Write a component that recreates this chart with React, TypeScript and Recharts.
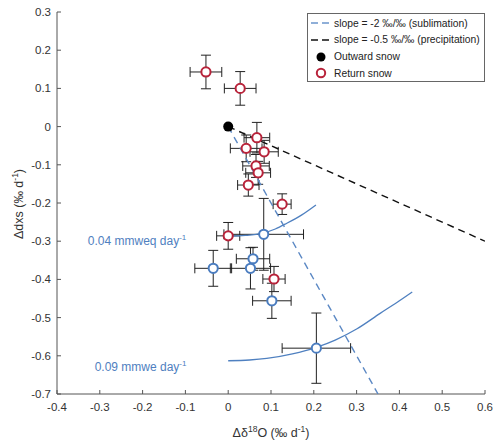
import { ScatterChart, Scatter, XAxis, YAxis, ErrorBar, ReferenceDot } from 'recharts'

const FONT = '"Liberation Sans", Arial, Helvetica, sans-serif'
const AXIS_COLOR = '#555'
const TEXT_COLOR = '#333'
const RED = '#b8233a'
const BLUE = '#4a7cbf'
const CURVE_BLUE = '#4f80c0'

const X_TICKS = [-0.4, -0.3, -0.2, -0.1, 0, 0.1, 0.2, 0.3, 0.4, 0.5, 0.6]
const Y_TICKS = [-0.7, -0.6, -0.5, -0.4, -0.3, -0.2, -0.1, 0, 0.1, 0.2, 0.3]

// outward leg
const OUTWARD_X = [0]
const OUTWARD_Y = [0]

// return leg, red ring markers
const RETURN_RED_X = [-0.052, 0.028, 0.067, 0.042, 0.084, 0.065, 0.07, 0.047, 0.126, 0.0, 0.107]
const RETURN_RED_Y = [0.143, 0.1, -0.029, -0.057, -0.066, -0.103, -0.121, -0.153, -0.203, -0.286, -0.399]
const RETURN_RED_EX = [0.037, 0.037, 0.03, 0.037, 0.033, 0.031, 0.029, 0.025, 0.021, 0.027, 0.026]
const RETURN_RED_EY = [0.044, 0.044, 0.04, 0.035, 0.03, 0.03, 0.03, 0.029, 0.027, 0.035, 0.033]

// return leg, blue ring markers
const RETURN_BLUE_X = [0.083, 0.058, -0.035, 0.052, 0.102, 0.206]
const RETURN_BLUE_Y = [-0.282, -0.346, -0.371, -0.371, -0.456, -0.58]
const RETURN_BLUE_EX = [0.093, 0.039, 0.043, 0.047, 0.045, 0.08]
const RETURN_BLUE_EY = [0.094, 0.03, 0.047, 0.054, 0.046, 0.092]

// reference slopes through the origin
const SUBLIMATION_X = [0, 0.35]
const SUBLIMATION_Y = [0, -0.7]
const PRECIP_X = [0, 0.6]
const PRECIP_Y = [0, -0.3]

// sublimation-rate curves
const LOW_RATE_X = [0, 0.04, 0.08, 0.11, 0.137, 0.172, 0.205]
const LOW_RATE_Y = [-0.287, -0.285, -0.279, -0.268, -0.253, -0.231, -0.205]
const HIGH_RATE_X = [0, 0.05, 0.09, 0.15, 0.206, 0.25, 0.3, 0.355, 0.4, 0.43]
const HIGH_RATE_Y = [-0.613, -0.611, -0.607, -0.595, -0.578, -0.559, -0.53, -0.489, -0.456, -0.433]

const zip = (xs: number[], ys: number[]) => xs.map((x, i) => ({ x, y: ys[i] }))
const withErrors = (xs: number[], ys: number[], ex: number[], ey: number[]) =>
  xs.map((x, i) => ({ x, y: ys[i], ex: ex[i], ey: ey[i] }))

const outward = zip(OUTWARD_X, OUTWARD_Y)
const returnRed = withErrors(RETURN_RED_X, RETURN_RED_Y, RETURN_RED_EX, RETURN_RED_EY)
const returnBlue = withErrors(RETURN_BLUE_X, RETURN_BLUE_Y, RETURN_BLUE_EX, RETURN_BLUE_EY)
const sublimation = zip(SUBLIMATION_X, SUBLIMATION_Y)
const precip = zip(PRECIP_X, PRECIP_Y)
const lowRate = zip(LOW_RATE_X, LOW_RATE_Y)
const highRate = zip(HIGH_RATE_X, HIGH_RATE_Y)

const fmt = (v: number) => (Math.abs(v) < 1e-9 ? '0' : v.toFixed(1))

function XTick({ x, y, payload }: any) {
  return (
    <g>
      <line x1={x} x2={x} y1={y} y2={y - 4} stroke={AXIS_COLOR} />
      <text x={x} y={y + 17} textAnchor="middle" fontSize={11.5} fill={TEXT_COLOR} fontFamily={FONT}>
        {fmt(payload.value)}
      </text>
    </g>
  )
}

function YTick({ x, y, payload }: any) {
  return (
    <g>
      <line x1={x} x2={x + 4} y1={y} y2={y} stroke={AXIS_COLOR} />
      <text x={x - 6} y={y + 4} textAnchor="end" fontSize={11.5} fill={TEXT_COLOR} fontFamily={FONT}>
        {fmt(payload.value)}
      </text>
    </g>
  )
}

const ring = (color: string) => (p: any) =>
  <circle cx={p.cx} cy={p.cy} r={4.6} fill="#fff" stroke={color} strokeWidth={2} />

const noMarker = () => <g />

function RateLabel({ cx, cy, text }: any) {
  return (
    <text x={cx} y={cy} fontSize={12} fill={CURVE_BLUE} fontFamily={FONT}>
      {text}
      <tspan dy={-5} fontSize={8}>-1</tspan>
    </text>
  )
}

function LegendBox() {
  const rows = [
    { label: 'slope = -2 ‰/‰ (sublimation)', kind: 'dash', color: '#6b95cc' },
    { label: 'slope = -0.5 ‰/‰ (precipitation)', kind: 'dash', color: '#111' },
    { label: 'Outward snow', kind: 'dot', color: '#000' },
    { label: 'Return snow', kind: 'ring', color: RED },
  ]
  return (
    <div
      style={{
        position: 'absolute',
        left: 307,
        top: 13,
        width: 178,
        height: 69,
        border: '1px solid #666',
        background: '#fff',
        fontFamily: FONT,
        fontSize: 10.3,
        color: '#222',
        boxSizing: 'border-box',
      }}
    >
      {rows.map((r, i) => (
        <div key={i} style={{ position: 'absolute', left: 0, top: 1 + i * 16.8, height: 16, display: 'flex', alignItems: 'center' }}>
          <svg width={24} height={16} style={{ marginLeft: 1 }}>
            {r.kind === 'dash' && <line x1={2} x2={22} y1={8} y2={8} stroke={r.color} strokeWidth={1.5} strokeDasharray="7 4" />}
            {r.kind === 'dot' && <circle cx={12} cy={8} r={4.5} fill={r.color} />}
            {r.kind === 'ring' && <circle cx={12} cy={8} r={4.2} fill="#fff" stroke={r.color} strokeWidth={2} />}
          </svg>
          <span style={{ marginLeft: 1, whiteSpace: 'nowrap' }}>{r.label}</span>
        </div>
      ))}
    </div>
  )
}

export default function App() {
  return (
    <div style={{ position: 'absolute', left: 0, top: 0, width: 500, height: 448, background: '#fff' }}>
      <ScatterChart width={500} height={448} margin={{ top: 12, right: 15, bottom: 0, left: 0 }}>
        <XAxis
          type="number"
          dataKey="x"
          domain={[-0.4, 0.6]}
          ticks={X_TICKS}
          tick={<XTick />}
          tickSize={0}
          tickMargin={0}
          tickLine={false}
          height={54}
          stroke={AXIS_COLOR}
          allowDataOverflow
          label={{
            content: () => (
              <text x={271} y={437} textAnchor="middle" fontSize={12.5} fill={TEXT_COLOR} fontFamily={FONT}>
                Δδ
                <tspan dy={-5} fontSize={8.5}>18</tspan>
                <tspan dy={5}>O (‰ d</tspan>
                <tspan dy={-5} fontSize={8.5}>-1</tspan>
                <tspan dy={5}>)</tspan>
              </text>
            ),
          }}
        />
        <YAxis
          type="number"
          dataKey="y"
          domain={[-0.7, 0.3]}
          ticks={Y_TICKS}
          tick={<YTick />}
          tickSize={0}
          tickMargin={0}
          tickLine={false}
          width={57}
          stroke={AXIS_COLOR}
          allowDataOverflow
          label={{
            content: () => (
              <text
                x={0}
                y={0}
                transform="translate(23 204) rotate(-90)"
                textAnchor="middle"
                fontSize={12.5}
                fill={TEXT_COLOR}
                fontFamily={FONT}
              >
                Δdxs (‰ d
                <tspan dy={-5} fontSize={8.5}>-1</tspan>
                <tspan dy={5}>)</tspan>
              </text>
            ),
          }}
        />

        <Scatter
          data={lowRate}
          line={{ stroke: CURVE_BLUE, strokeWidth: 1.3 }}
          lineJointType="monotoneX"
          shape={noMarker}
          isAnimationActive={false}
        />
        <Scatter
          data={highRate}
          line={{ stroke: CURVE_BLUE, strokeWidth: 1.3 }}
          lineJointType="monotoneX"
          shape={noMarker}
          isAnimationActive={false}
        />
        <Scatter
          data={sublimation}
          line={{ stroke: '#5b88c4', strokeWidth: 1.4, strokeDasharray: '7 5' }}
          shape={noMarker}
          isAnimationActive={false}
        />
        <Scatter
          data={precip}
          line={{ stroke: '#111', strokeWidth: 1.4, strokeDasharray: '7 5' }}
          shape={noMarker}
          isAnimationActive={false}
        />

        <Scatter data={returnBlue} shape={ring(BLUE)} isAnimationActive={false}>
          <ErrorBar dataKey="ex" direction="x" width={5} stroke="#222" strokeWidth={1} />
          <ErrorBar dataKey="ey" direction="y" width={5} stroke="#222" strokeWidth={1} />
        </Scatter>
        <Scatter data={returnRed} shape={ring(RED)} isAnimationActive={false}>
          <ErrorBar dataKey="ex" direction="x" width={5} stroke="#222" strokeWidth={1} />
          <ErrorBar dataKey="ey" direction="y" width={5} stroke="#222" strokeWidth={1} />
        </Scatter>
        <Scatter
          data={outward}
          shape={(p: any) => <circle cx={p.cx} cy={p.cy} r={5} fill="#000" />}
          isAnimationActive={false}
        />

        <ReferenceDot x={-0.328} y={-0.31} r={0} shape={(p: any) => <RateLabel {...p} text="0.04 mmweq day" />} />
        <ReferenceDot x={-0.312} y={-0.64} r={0} shape={(p: any) => <RateLabel {...p} text="0.09 mmwe day" />} />
      </ScatterChart>
      <LegendBox />
    </div>
  )
}
